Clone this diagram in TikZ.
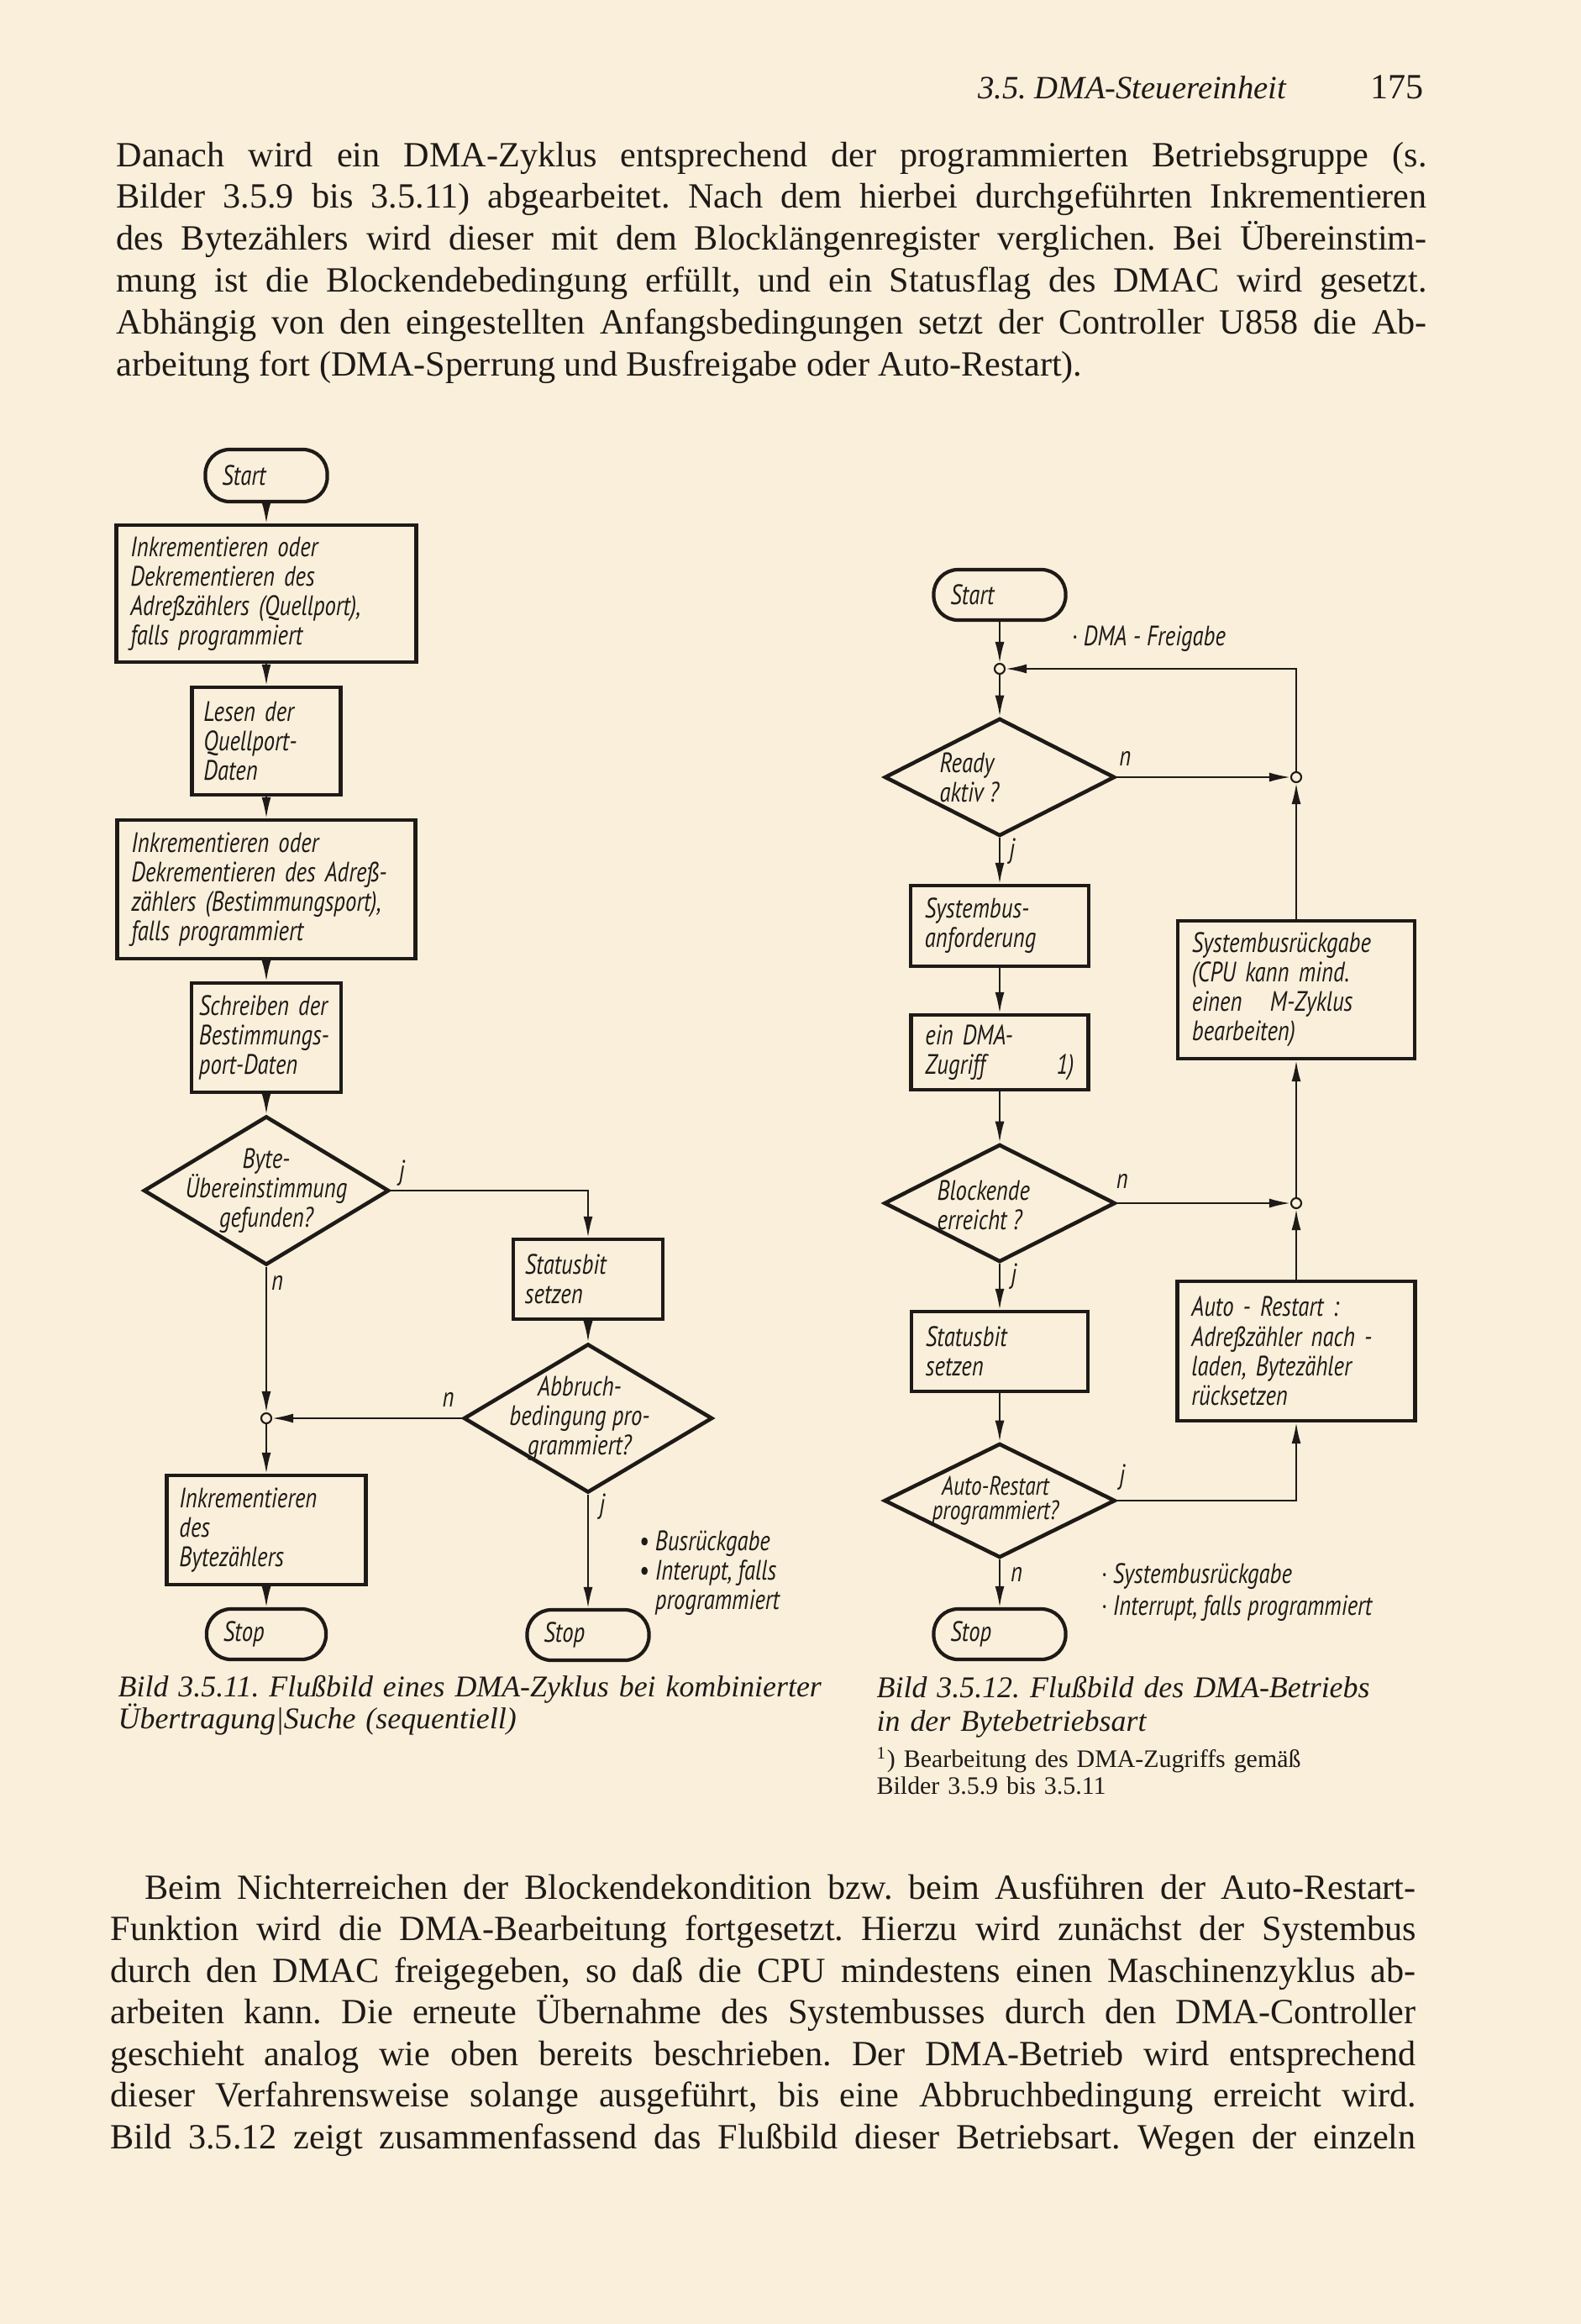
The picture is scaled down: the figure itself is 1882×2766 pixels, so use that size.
\documentclass[tikz,border=0pt]{standalone}
\usepackage{fontspec}
\setmainfont{Liberation Serif}
\newfontfamily\chartfam[FakeStretch=0.8]{PT Sans}
\usetikzlibrary{arrows.meta,shapes.geometric}
\definecolor{paper}{RGB}{250,239,218}
\definecolor{ink}{RGB}{30,26,24}
\frenchspacing

\begin{document}
\begin{tikzpicture}[x=0.01cm,y=-0.01cm,>={Latex[length=2.5mm,width=1.1mm]},
 every node/.style={text=ink},
 chart/.style={font=\chartfam\itshape\fontsize{9.5}{10}\selectfont},
 proc/.style={chart,draw=ink,line width=1.2pt,rectangle,align=left,
   inner xsep=0.17cm,inner ysep=0pt},
 term/.style={chart,draw=ink,line width=1.2pt,rounded corners=0.29cm,
   minimum height=0.6cm,align=left,inner xsep=0.2cm,inner ysep=0pt},
 dec/.style={draw=ink,line width=1.3pt,diamond,inner sep=0pt},
 dtext/.style={chart,inner sep=0pt},
 junc/.style={circle,draw=ink,line width=0.6pt,fill=paper,inner sep=0pt,
   minimum size=0.12cm},
 lbl/.style={chart,inner sep=0pt},
 flow/.style={->,draw=ink,line width=0.6pt},
 body/.style={anchor=base west,inner sep=0pt,align=justify}]
  \fill[paper] (0,0) rectangle (1882,2766);
  \useasboundingbox (0,0) rectangle (1882,2766);

  \node[anchor=base east,inner sep=0pt,font=\itshape\fontsize{11}{13}\selectfont]
    (head) at (1532,117) {3.5. DMA-Steuereinheit};
  \node[anchor=base east,inner sep=0pt,font=\fontsize{12}{13}\selectfont]
    (pageno) at (1695,117) {175};

  \node[body,text width=15.59cm,font=\fontsize{12}{14.2}\selectfont] (para1) at (138,198)
    {Danach wird ein DMA-Zyklus entsprechend der programmierten Betriebsgruppe (s.\linebreak
     Bilder 3.5.9 bis 3.5.11) abgearbeitet. Nach dem hierbei durchgeführten Inkrementieren\linebreak
     des Bytezählers wird dieser mit dem Blocklängenregister verglichen. Bei Übereinstim-\linebreak
     mung ist die Blockendebedingung erfüllt, und ein Statusflag des DMAC wird gesetzt.\linebreak
     Abhängig von den eingestellten Anfangsbedingungen setzt der Controller U858 die Ab-\linebreak
     arbeitung fort (DMA-Sperrung und Busfreigabe oder Auto-Restart).};

  % Bild 3.5.11
  \node[term,text width=1.05cm,minimum height=0.62cm] (start1) at (317,566) {Start};
  \node[proc,text width=3.23cm,minimum height=1.63cm] (inc1) at (317,706.5)
    {Inkrementieren oder\\Dekrementieren des\\Adreßzählers (Quellport),\\falls programmiert};
  \node[proc,text width=1.49cm,minimum height=1.28cm,inner xsep=0.14cm] (read) at (317,882)
    {Lesen der\\Quellport-\\Daten};
  \node[proc,text width=3.21cm,minimum height=1.65cm] (inc2) at (317,1058.5)
    {Inkrementieren oder\\Dekrementieren des Adreß-\\zählers (Bestimmungsport),\\falls programmiert};
  \node[proc,text width=1.6cm,minimum height=1.3cm,inner xsep=0.09cm] (write) at (317,1235)
    {Schreiben der\\Bestimmungs-\\port-Daten};
  \node[dec,minimum width=2.92cm,minimum height=1.77cm] (match) at (317,1417) {};
  \node[dtext,align=center] (matcht) at (match.center) {Byte-\\Übereinstimmung\\gefunden?};
  \node[proc,text width=1.5cm,minimum height=0.95cm,inner xsep=0.14cm] (stat1) at (700,1522.5)
    {Statusbit\\setzen};
  \node[dec,minimum width=2.96cm,minimum height=1.77cm] (abort) at (700,1688) {};
  \node[dtext,align=center] (abortt) at ([xshift=-0.1cm]abort.center)
    {Abbruch-\\bedingung pro-\\grammiert?};
  \node[junc] (join1) at (317,1688) {};
  \node[proc,text width=2.07cm,minimum height=1.3cm,inner xsep=0.15cm] (cnt) at (317,1821)
    {Inkrementieren\\des\\Bytezählers};
  \node[term,text width=1.02cm] (stop1) at (317,1945) {Stop};
  \node[term,text width=1.05cm] (stop2) at (700,1946) {Stop};
  \node[chart,anchor=west,align=left,inner sep=0pt] (note1) at (760,1872)
    {• Busrückgabe\\• Interupt, falls\\\phantom{• }programmiert};

  \draw[flow] (start1) -- (inc1);
  \draw[flow] (inc1) -- (read);
  \draw[flow] (read) -- (inc2);
  \draw[flow] (inc2) -- (write);
  \draw[flow] (write) -- (match);
  \draw[flow] (match.east) -| (stat1.north);
  \draw[flow] (stat1) -- (abort);
  \draw[flow] (match.south) -- (join1);
  \draw[flow] (abort.west) -- (join1);
  \draw[flow] (join1) -- (cnt);
  \draw[flow] (cnt) -- (stop1);
  \draw[flow] (abort.south) -- (stop2);

  \node[lbl] (matchj) at ([xshift=0.13cm,yshift=0.21cm]match.east) {j};
  \node[lbl] (matchn) at ([xshift=0.13cm,yshift=-0.19cm]match.south) {n};
  \node[lbl] (abortn) at ([xshift=-0.16cm,yshift=0.22cm]abort.west) {n};
  \node[lbl] (abortj) at ([xshift=0.17cm,yshift=-0.14cm]abort.south) {j};

  \node[body,text width=9.5cm,align=left,font=\itshape\fontsize{10.2}{10.8}\selectfont]
    (cap1) at (140,2019)
    {Bild 3.5.11. Flußbild eines DMA-Zyklus bei kombinierter\\Übertragung|Suche (sequentiell)};

  % Bild 3.5.12
  \node[term,text width=1.17cm] (start2) at (1190,708) {Start};
  \node[junc] (join2) at (1190,796) {};
  \node[chart,anchor=west,inner sep=0pt] (note2) at (1275,760) {· DMA - Freigabe};
  \node[dec,minimum width=2.74cm,minimum height=1.4cm] (ready) at (1190,925) {};
  \node[dtext,align=left,anchor=west] (readyt) at ([xshift=-0.72cm]ready.center)
    {Ready\\aktiv ?};
  \node[junc] (join3) at (1543,925) {};
  \node[proc,text width=1.78cm,minimum height=0.96cm] (req) at (1190,1102)
    {Systembus-\\anforderung};
  \node[proc,text width=1.77cm,minimum height=0.89cm] (acc) at (1190,1252.5)
    {ein DMA-\\Zugriff\hfill 1)};
  \node[proc,text width=2.48cm,minimum height=1.64cm] (busret) at (1543,1178)
    {Systembusrückgabe\\(CPU kann mind.\\einen\quad M-Zyklus\\bearbeiten)};
  \node[dec,minimum width=2.75cm,minimum height=1.4cm] (blkend) at (1190,1432) {};
  \node[dtext,align=left,anchor=west] (blkendt) at ([xshift=-0.75cm,yshift=-0.02cm]blkend.center)
    {Blockende\\erreicht ?};
  \node[junc] (join4) at (1543,1432) {};
  \node[proc,text width=1.76cm,minimum height=0.95cm] (stat2) at (1190,1608.5)
    {Statusbit\\setzen};
  \node[proc,text width=2.49cm,minimum height=1.66cm] (restart) at (1543,1608)
    {Auto - Restart :\\Adreßzähler nach -\\laden, Bytezähler\\rücksetzen};
  \node[dec,minimum width=2.75cm,minimum height=1.36cm] (autor) at (1190,1786) {};
  \node[dtext,align=center,font=\chartfam\itshape\fontsize{9}{8.2}\selectfont] (autort)
    at ([xshift=-0.05cm]autor.center) {Auto-Restart\\programmiert?};
  \node[term,text width=1.17cm] (stop3) at (1190,1945) {Stop};
  \node[chart,anchor=west,align=left,inner sep=0pt,
        font=\chartfam\itshape\fontsize{9.5}{11}\selectfont] (note3) at (1310,1895)
    {· Systembusrückgabe\\· Interrupt, falls programmiert};

  \draw[flow] (start2) -- (join2);
  \draw[flow] (join2) -- (ready);
  \draw[flow] (ready.east) -- (join3);
  \draw[flow] (join3) |- (join2);
  \draw[flow] (busret) -- (join3);
  \draw[flow] (ready.south) -- (req);
  \draw[flow] (req) -- (acc);
  \draw[flow] (acc) -- (blkend);
  \draw[flow] (blkend.east) -- (join4);
  \draw[flow] (join4) -- (busret);
  \draw[flow] (restart) -- (join4);
  \draw[flow] (blkend.south) -- (stat2);
  \draw[flow] (stat2) -- (autor);
  \draw[flow] (autor.east) -| (restart.south);
  \draw[flow] (autor.south) -- (stop3);

  \node[lbl] (readyn) at ([xshift=0.10cm,yshift=0.22cm]ready.east) {n};
  \node[lbl] (readyj) at ([xshift=0.15cm,yshift=-0.16cm]ready.south) {j};
  \node[lbl] (blkendn) at ([xshift=0.06cm,yshift=0.26cm]blkend.east) {n};
  \node[lbl] (blkendj) at ([xshift=0.17cm,yshift=-0.15cm]blkend.south) {j};
  \node[lbl] (autorj) at ([xshift=0.06cm,yshift=0.28cm]autor.east) {j};
  \node[lbl] (autorn) at ([xshift=0.2cm,yshift=-0.18cm]autor.south) {n};

  \node[body,text width=7cm,align=left,font=\itshape\fontsize{10.2}{11.4}\selectfont]
    (cap2) at (1043,2020) {Bild 3.5.12. Flußbild des DMA-Betriebs\\in der Bytebetriebsart};
  \node[body,text width=7cm,align=left,font=\fontsize{8.5}{9.1}\selectfont]
    (foot) at (1043,2103)
    {\textsuperscript{1}) Bearbeitung des DMA-Zugriffs gemäß\\Bilder 3.5.9 bis 3.5.11};

  \node[body,text width=15.53cm,font=\fontsize{12}{14.1}\selectfont] (para2) at (131,2260)
    {\hspace*{0.41cm}Beim Nichterreichen der Blockendekondition bzw. beim Ausführen der Auto-Restart-\linebreak
     Funktion wird die DMA-Bearbeitung fortgesetzt. Hierzu wird zunächst der Systembus\linebreak
     durch den DMAC freigegeben, so daß die CPU mindestens einen Maschinenzyklus ab-\linebreak
     arbeiten kann. Die erneute Übernahme des Systembusses durch den DMA-Controller\linebreak
     geschieht analog wie oben bereits beschrieben. Der DMA-Betrieb wird entsprechend\linebreak
     dieser Verfahrensweise solange ausgeführt, bis eine Abbruchbedingung erreicht wird.\linebreak
     Bild 3.5.12 zeigt zusammenfassend das Flußbild dieser Betriebsart. Wegen der einzeln\linebreak};
\end{tikzpicture}
\end{document}
